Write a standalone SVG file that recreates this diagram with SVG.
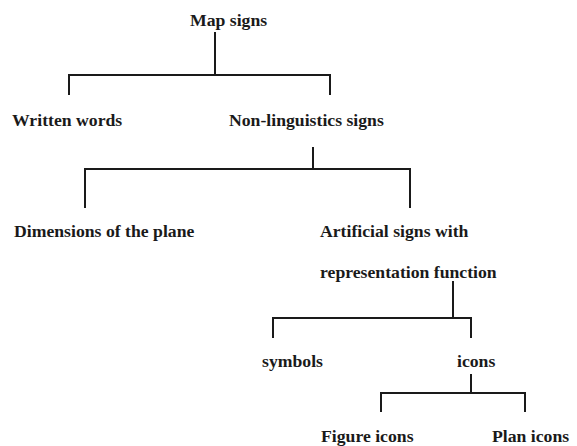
<svg xmlns="http://www.w3.org/2000/svg" width="577" height="446" viewBox="0 0 577 446">
<style>
text{font-family:"Liberation Serif","Times New Roman",serif;font-weight:bold;font-size:17.7px;fill:#1a1a1a}
.c{fill:none;stroke:#1a1a1a;stroke-width:2;stroke-linecap:square}
</style>
<rect width="577" height="446" fill="#fff"/>
<g id="connectors">
<path class="c" d="M215,33V75M69,94V75H330V94"/>
<path class="c" d="M313,148V169M85,207V169H410V207"/>
<path class="c" d="M453,282V318M273,337V318H471V337"/>
<path class="c" d="M471,375V393M381,411V393H525V411"/>
</g>
<g id="n-map"><text x="190" y="26">Map signs</text></g>
<g id="n-written"><text x="12" y="126">Written words</text></g>
<g id="n-nonling"><text x="229" y="126">Non-linguistics signs</text></g>
<g id="n-dim"><text x="14" y="237">Dimensions of the plane</text></g>
<g id="n-art"><text x="320" y="237">Artificial signs with</text><text x="320" y="278">representation function</text></g>
<g id="n-symbols"><text x="262" y="367">symbols</text></g>
<g id="n-icons"><text x="457" y="367">icons</text></g>
<g id="n-figure"><text x="321" y="442">Figure icons</text></g>
<g id="n-plan"><text x="492" y="442">Plan icons</text></g>
</svg>
